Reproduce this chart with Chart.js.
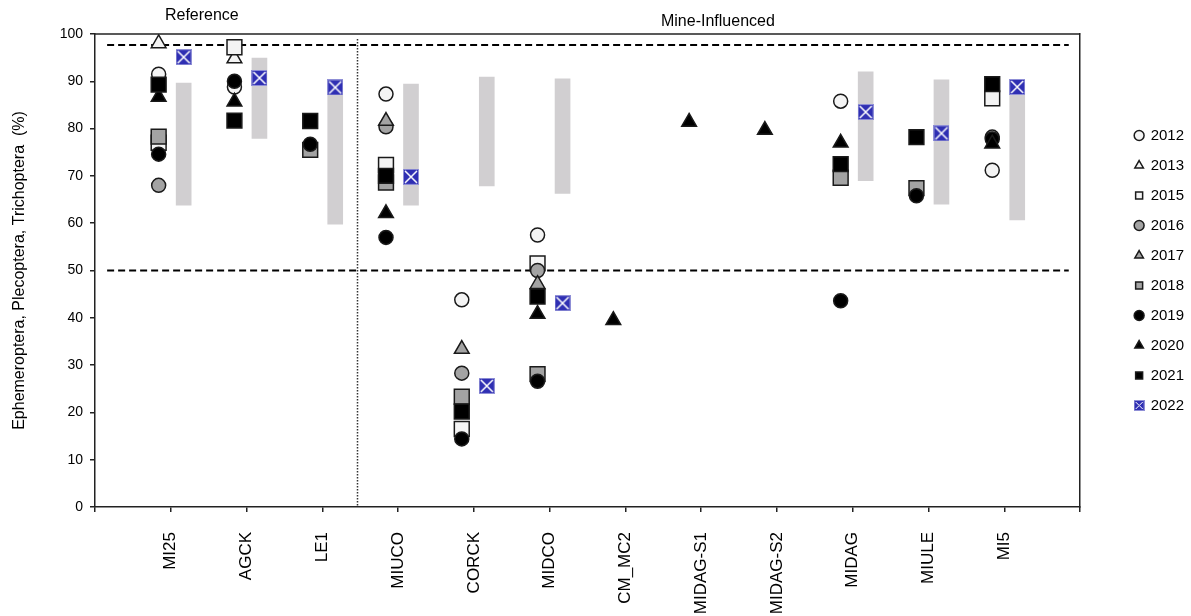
<!DOCTYPE html>
<html>
<head>
<meta charset="utf-8">
<script src="https://cdn.jsdelivr.net/npm/chart.js@4.4.1/dist/chart.umd.min.js"></script>
<style>
  html, body { margin: 0; padding: 0; background: #fff; }
</style>
</head>
<body>
<canvas id="chart" width="1191" height="616"></canvas>
<script>
// sites along the x axis
const sites = ["MI25", "AGCK", "LE1", "MIUCO", "CORCK", "MIDCO", "CM_MC2", "MIDAG-S1", "MIDAG-S2", "MIDAG", "MIULE", "MI5"];

// EPT (%) by year, one value per site (null = no sample)
const ept2012 = [91.5, 88.8, null, 87.3, 43.8, 57.5, null, null, null, 85.8, null, 71.2];
const ept2013 = [98.0, 94.8, null, null, null, null, null, null, null, null, null, null];
const ept2015 = [77.0, 97.2, null, 72.3, 16.5, 51.5, null, null, null, null, null, 86.4];
const ept2016 = [68.0, null, null, 80.4, 28.3, 50.0, null, null, null, null, null, 78.2];
const ept2017 = [null, null, null, 81.6, 33.4, 47.1, null, null, null, null, null, null];
const ept2018 = [78.3, null, 75.5, 68.6, 23.3, 28.1, null, null, null, 69.6, 67.4, null];
const ept2019 = [74.6, 90.0, 76.7, 57.0, 14.4, 26.6, null, null, null, 43.6, 65.8, 77.8];
const ept2020 = [86.7, 85.7, null, 62.1, null, 40.8, 39.5, 81.4, 79.7, 77.0, null, 76.8];
const ept2021 = [89.3, 81.7, 81.6, 70.0, 20.2, 44.5, null, null, null, 72.5, 78.2, 89.4];
const ept2022 = [95.1, 90.7, 88.7, 69.8, 25.6, 43.1, null, null, null, 83.5, 79.0, 88.8];

// historical range bars (grey)
const rangeLow  = [63.8, 77.9, 59.8, 63.8, 67.9, 66.3, null, null, null, 69.0, 64.0, 60.7];
const rangeHigh = [89.6, 94.9, 88.5, 89.4, 90.9, 90.5, null, null, null, 92.0, 90.3, 89.5];

// benchmark lines
const upperBenchmark = 97.7;
const lowerBenchmark = 50;

const markerShift = -0.16;
const rangeShift = 0.17;
const dividerAt = 3.46;
const FONT = "'Liberation Sans', Arial, sans-serif";

function makeXMark(size) {
  const c = document.createElement("canvas");
  c.width = size; c.height = size;
  const g = c.getContext("2d");
  g.fillStyle = "#8f8fd6";
  g.fillRect(0, 0, size, size);
  g.fillStyle = "#2f2fb3";
  g.fillRect(1, 1, size - 2, size - 2);
  g.strokeStyle = "#ffffff";
  g.lineWidth = size > 12 ? 1.5 : 1;
  g.beginPath();
  g.moveTo(2, 2); g.lineTo(size - 2, size - 2);
  g.moveTo(size - 2, 2); g.lineTo(2, size - 2);
  g.stroke();
  return c;
}
const xMarkBig = makeXMark(16);
const xMarkSmall = makeXMark(11);

function toPoints(values, shift) {
  const pts = [];
  values.forEach((v, i) => { if (v != null) pts.push({ x: i + 1 + shift, y: v }); });
  return pts;
}

function yearSet(label, values, style, fill, order) {
  const radius = style === "rect" ? 10.5 : style === "triangle" ? 8.5 : 7;
  return {
    type: "scatter",
    label: label,
    data: toPoints(values, label === "2022" ? rangeShift : markerShift),
    pointStyle: style,
    pointRadius: radius,
    pointHoverRadius: radius,
    backgroundColor: fill,
    borderColor: "#1a1a1a",
    borderWidth: 1.5,
    order: order,
    inLegend: true,
  };
}

const ranges = [];
rangeLow.forEach((lo, i) => {
  if (lo != null) ranges.push({ x: i + 1 + rangeShift, y: [lo, rangeHigh[i]] });
});

const datasets = [
  yearSet("2012", ept2012, "circle", "#f4f4f4", 10),
  yearSet("2013", ept2013, "triangle", "#f4f4f4", 9),
  yearSet("2015", ept2015, "rect", "#f4f4f4", 8),
  yearSet("2016", ept2016, "circle", "#a3a3a3", 7),
  yearSet("2017", ept2017, "triangle", "#a3a3a3", 6),
  yearSet("2018", ept2018, "rect", "#a3a3a3", 5),
  yearSet("2019", ept2019, "circle", "#000000", 4),
  yearSet("2020", ept2020, "triangle", "#000000", 3),
  yearSet("2021", ept2021, "rect", "#000000", 2),
  Object.assign(yearSet("2022", ept2022, xMarkBig, "#2f2fb3", 1), { borderColor: "#8f8fd6", borderWidth: 1 }),
  {
    type: "bar",
    label: "range",
    data: ranges,
    backgroundColor: "#d1cfd1",
    barThickness: 15,
    grouped: false,
    order: 20,
  },
  {
    type: "line",
    label: "upper",
    data: [{ x: 0.16, y: upperBenchmark }, { x: 12.85, y: upperBenchmark }],
    borderColor: "#000",
    borderWidth: 2,
    borderDash: [7, 4],
    pointRadius: 0,
    order: 15,
  },
  {
    type: "line",
    label: "lower",
    data: [{ x: 0.16, y: lowerBenchmark }, { x: 12.85, y: lowerBenchmark }],
    borderColor: "#000",
    borderWidth: 2,
    borderDash: [7, 4],
    pointRadius: 0,
    order: 15,
  },
];

const sectionNotes = {
  id: "sectionNotes",
  afterDraw(chart) {
    const { ctx, chartArea: a, scales: { x } } = chart;
    ctx.save();
    ctx.strokeStyle = "#222";
    ctx.lineWidth = 1.5;
    ctx.beginPath();
    ctx.moveTo(a.left, a.top);
    ctx.lineTo(a.right, a.top);
    ctx.stroke();

    const dx = Math.round(x.getPixelForValue(dividerAt)) + 0.5;
    ctx.lineWidth = 1.5;
    ctx.setLineDash([1.5, 1.5]);
    ctx.strokeStyle = "#333";
    ctx.beginPath();
    ctx.moveTo(dx, a.top + 5);
    ctx.lineTo(dx, a.bottom);
    ctx.stroke();
    ctx.setLineDash([]);

    ctx.fillStyle = "#000";
    ctx.font = "16px " + FONT;
    ctx.textAlign = "center";
    ctx.textBaseline = "middle";
    ctx.fillText("Reference", x.getPixelForValue(1.41), 16);
    ctx.fillText("Mine-Influenced", x.getPixelForValue(8.22), 22);
    ctx.restore();
  },
};

new Chart(document.getElementById("chart"), {
  type: "scatter",
  data: { datasets: datasets },
  options: {
    responsive: false,
    animation: false,
    layout: { padding: { top: 34, right: -3, bottom: 0, left: 0 } },
    scales: {
      x: {
        type: "linear",
        min: 0,
        max: 13,
        offset: false,
        afterFit: (s) => { s.height = 109; },
        afterBuildTicks: (s) => { s.ticks = sites.map((_, i) => ({ value: i })).concat([{ value: 12 }, { value: 13 }]); },
        ticks: {
          stepSize: 1,
          autoSkip: false,
          maxRotation: 90,
          minRotation: 90,
          padding: 20,
          color: "#000",
          font: { family: FONT, size: 17 },
          callback: (v) => sites[v - 1] || "",
        },
        grid: { offset: false, drawOnChartArea: false, drawTicks: true, tickLength: 5, color: "#222", lineWidth: 1.5 },
        border: { color: "#222", width: 1.5 },
      },
      y: {
        min: 0,
        max: 100,
        afterFit: (s) => { s.width = 95; },
        ticks: { stepSize: 10, padding: 7, color: "#000", font: { family: FONT, size: 14 } },
        grid: { drawOnChartArea: false, drawTicks: true, tickLength: 5, color: "#222", lineWidth: 1.5 },
        border: { color: "#222", width: 1.5 },
        title: {
          display: true,
          text: "Ephemeroptera, Plecoptera, Trichoptera  (%)",
          color: "#000",
          font: { family: FONT, size: 16 },
          padding: { top: 10, bottom: 0 },
        },
      },
      y2: {
        position: "right",
        min: 0,
        max: 100,
        afterFit: (s) => { s.width = 40; },
        ticks: { display: false },
        grid: { display: false },
        border: { color: "#222", width: 1.5 },
      },
    },
    plugins: {
      tooltip: { enabled: false },
      legend: {
        position: "right",
        fullSize: false,
        align: "center",
        labels: {
          usePointStyle: true,
          boxWidth: 8,
          boxHeight: 7,
          padding: 15,
          color: "#000",
          font: { family: FONT, size: 15 },
          sort: (a, b) => a.datasetIndex - b.datasetIndex,
          filter: (item, data) => !!data.datasets[item.datasetIndex].inLegend,
          generateLabels(chart) {
            const items = Chart.defaults.plugins.legend.labels.generateLabels(chart);
            items.forEach((it) => { if (it.pointStyle === xMarkBig) it.pointStyle = xMarkSmall; });
            return items;
          },
        },
      },
    },
  },
  plugins: [sectionNotes],
});
</script>
</body>
</html>
